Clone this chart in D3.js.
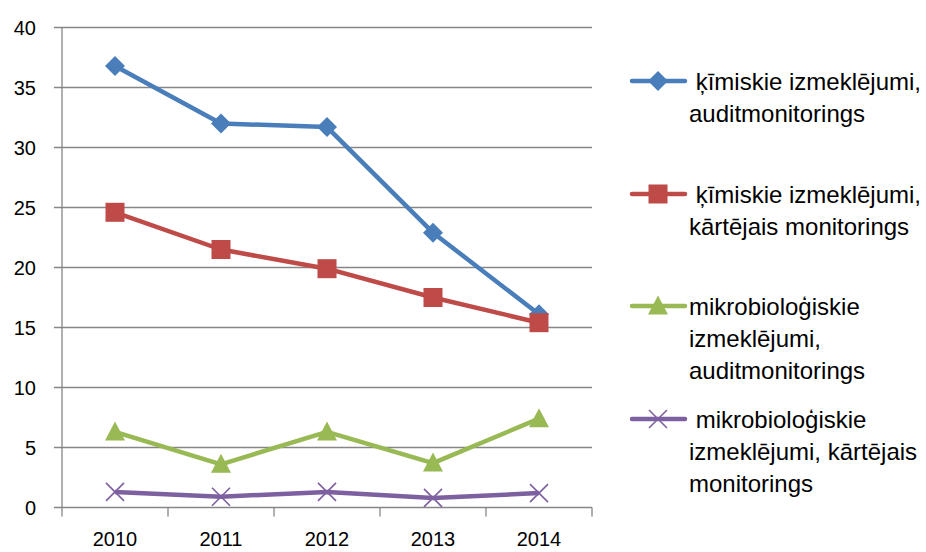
<!DOCTYPE html>
<html>
<head>
<meta charset="utf-8">
<style>
  body { margin: 0; background: #fff; }
  text { font-family: "Liberation Sans", Arial, sans-serif; fill: #000; }
</style>
</head>
<body>
<svg width="926" height="552"></svg>
<script src="https://d3js.org/d3.v7.min.js"></script>
<script>

var years = ["2010", "2011", "2012", "2013", "2014"];
var yTicks = [0, 5, 10, 15, 20, 25, 30, 35, 40];

var kimAudit = [36.8, 32.0, 31.7, 22.9, 16.1];
var kimKart = [24.6, 21.5, 19.9, 17.5, 15.4];
var mikroAudit = [6.3, 3.6, 6.3, 3.7, 7.4];
var mikroKart = [1.3, 0.9, 1.3, 0.8, 1.2];

var seriesNames = [
  [" ķīmiskie izmeklējumi,", "auditmonitorings"],
  [" ķīmiskie izmeklējumi,", "kārtējais monitorings"],
  ["mikrobioloģiskie", "izmeklējumi,", "auditmonitorings"],
  [" mikrobioloģiskie", "izmeklējumi, kārtējais", "monitorings"]
];
var seriesValues = [kimAudit, kimKart, mikroAudit, mikroKart];
var colors = ["#4A7EBB", "#BE4B48", "#98B954", "#7D60A0"];
var markers = ["diamond", "square", "triangle", "cross"];

var svg = d3.select("svg");

var x = d3.scaleBand().domain(years).range([62, 592]);
var y = d3.scaleLinear().domain([0, 40]).range([507.5, 27.5]);

// gridlines
svg.append("g")
  .selectAll("line")
  .data(yTicks)
  .enter().append("line")
    .attr("x1", 54).attr("x2", 592)
    .attr("y1", function(d) { return y(d); })
    .attr("y2", function(d) { return y(d); })
    .attr("stroke", "#868686")
    .attr("stroke-width", 1.3);

// y axis line
svg.append("line")
  .attr("x1", 62).attr("x2", 62)
  .attr("y1", y(40)).attr("y2", y(0))
  .attr("stroke", "#868686").attr("stroke-width", 1.3);

// x ticks
var xt = years.map(function(d) { return x(d); }).concat([592]);
svg.append("g")
  .selectAll("line")
  .data(xt)
  .enter().append("line")
    .attr("x1", function(d) { return d; }).attr("x2", function(d) { return d; })
    .attr("y1", y(0)).attr("y2", y(0) + 9)
    .attr("stroke", "#868686").attr("stroke-width", 1.3);

svg.append("g")
  .selectAll("text")
  .data(yTicks)
  .enter().append("text")
    .attr("x", 36)
    .attr("y", function(d) { return y(d); })
    .attr("dy", "0.36em")
    .attr("text-anchor", "end")
    .attr("font-size", 20)
    .text(function(d) { return d; });

svg.append("g")
  .selectAll("text")
  .data(years)
  .enter().append("text")
    .attr("x", function(d) { return x(d) + x.bandwidth() / 2; })
    .attr("y", 545.5)
    .attr("text-anchor", "middle")
    .attr("font-size", 20)
    .text(function(d) { return d; });

function drawMarker(g, type, color) {
  if (type === "diamond") {
    g.append("path").attr("d", "M0,-10L10,0L0,10L-10,0Z").attr("fill", color);
  } else if (type === "square") {
    g.append("rect").attr("x", -9.5).attr("y", -9.5).attr("width", 19).attr("height", 19).attr("fill", color);
  } else if (type === "triangle") {
    g.append("path").attr("d", "M0,-10.5L10,8.5L-10,8.5Z").attr("fill", color);
  } else {
    g.append("path").attr("d", "M-9,-9L9,9M-9,9L9,-9")
      .attr("stroke", color).attr("stroke-width", 1.6).attr("fill", "none");
  }
}

var line = d3.line()
  .x(function(d, i) { return x(years[i]) + x.bandwidth() / 2; })
  .y(function(d) { return y(d); });

seriesValues.forEach(function(vals, s) {
  svg.append("path")
    .attr("d", line(vals))
    .attr("fill", "none")
    .attr("stroke", colors[s])
    .attr("stroke-width", 4.5)
    .attr("stroke-linejoin", "round");
  vals.forEach(function(v, i) {
    var g = svg.append("g")
      .attr("transform", "translate(" + (x(years[i]) + x.bandwidth() / 2) + "," + y(v) + ")");
    drawMarker(g, markers[s], colors[s]);
  });
});

// legend
var legendTop = [81, 194, 306, 419];
seriesNames.forEach(function(lines, s) {
  var g = svg.append("g").attr("transform", "translate(0," + legendTop[s] + ")");
  g.append("line")
    .attr("x1", 632).attr("x2", 685)
    .attr("stroke", colors[s]).attr("stroke-width", 4.5)
    .attr("stroke-linecap", "round");
  var m = g.append("g").attr("transform", "translate(658,0)");
  drawMarker(m, markers[s], colors[s]);
  var t = g.append("text")
    .attr("x", 689)
    .attr("y", 0)
    .attr("font-size", 24)
    .attr("xml:space", "preserve")
    .style("white-space", "pre");
  lines.forEach(function(l, k) {
    t.append("tspan")
      .attr("x", 689)
      .attr("y", k * 32)
      .attr("dy", "0.36em")
      .text(l);
  });
});

</script>
</body>
</html>
